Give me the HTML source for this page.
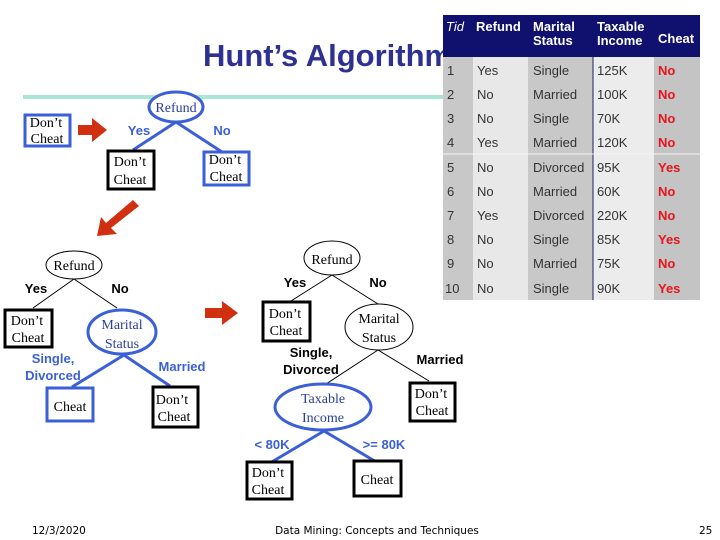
<!DOCTYPE html><html><head><style>body{margin:0;background:#fff}svg{display:block}</style></head><body>
<svg width="720" height="540" xmlns="http://www.w3.org/2000/svg" font-family="Liberation Serif, serif">
<rect width="720" height="540" fill="#fff"/>
<line x1="23" y1="97" x2="445" y2="97" stroke="#a8e6d6" stroke-width="4"/>
<text x="203" y="66" font-family="Liberation Sans, sans-serif" font-weight="bold" font-size="31" fill="#2e3192">Hunt’s Algorithm</text>
<!-- table -->
<g font-family="Liberation Sans, sans-serif" font-size="13">
<rect x="443" y="57" width="30" height="243" fill="#c8c8c8"/>
<rect x="473" y="57" width="55" height="243" fill="#e8e8e8"/>
<rect x="528" y="57" width="65" height="243" fill="#c8c8c8"/>
<rect x="593" y="57" width="61" height="243" fill="#ececec"/>
<rect x="654" y="57" width="46" height="243" fill="#c4c4c4"/>
<line x1="593" y1="57" x2="593" y2="300" stroke="#202060" stroke-width="1"/>
<line x1="443" y1="154" x2="700" y2="154" stroke="#f4f4f4" stroke-width="1"/>
<rect x="443" y="15" width="257" height="42" fill="#10106e"/>
<g fill="#fff" font-weight="bold">
<text x="446" y="31" font-style="italic" font-weight="normal">Tid</text>
<text x="476" y="31">Refund</text>
<text x="533" y="31">Marital</text><text x="533" y="45">Status</text>
<text x="597" y="31">Taxable</text><text x="597" y="45">Income</text>
<text x="658" y="43">Cheat</text>
</g>
<g fill="#333">
<text x="447" y="75">1</text><text x="477" y="75">Yes</text><text x="533" y="75">Single</text><text x="597" y="75">125K</text>
<text x="447" y="99">2</text><text x="477" y="99">No</text><text x="533" y="99">Married</text><text x="597" y="99">100K</text>
<text x="447" y="123">3</text><text x="477" y="123">No</text><text x="533" y="123">Single</text><text x="597" y="123">70K</text>
<text x="447" y="147">4</text><text x="477" y="147">Yes</text><text x="533" y="147">Married</text><text x="597" y="147">120K</text>
<text x="447" y="172">5</text><text x="477" y="172">No</text><text x="533" y="172">Divorced</text><text x="597" y="172">95K</text>
<text x="447" y="196">6</text><text x="477" y="196">No</text><text x="533" y="196">Married</text><text x="597" y="196">60K</text>
<text x="447" y="220">7</text><text x="477" y="220">Yes</text><text x="533" y="220">Divorced</text><text x="597" y="220">220K</text>
<text x="447" y="244">8</text><text x="477" y="244">No</text><text x="533" y="244">Single</text><text x="597" y="244">85K</text>
<text x="447" y="268">9</text><text x="477" y="268">No</text><text x="533" y="268">Married</text><text x="597" y="268">75K</text>
<text x="445" y="293">10</text><text x="477" y="293">No</text><text x="533" y="293">Single</text><text x="597" y="293">90K</text>
</g>
<g fill="#e8141c" font-weight="bold">
<text x="658" y="75">No</text><text x="658" y="99">No</text><text x="658" y="123">No</text><text x="658" y="147">No</text>
<text x="658" y="172">Yes</text><text x="658" y="196">No</text><text x="658" y="220">No</text><text x="658" y="244">Yes</text>
<text x="658" y="268">No</text><text x="658" y="293">Yes</text>
</g>
</g>
<!-- arrows -->
<g fill="#d03010">
<polygon points="78,125 92,125 92,118 107,130 92,142 92,135 78,135"/>
<polygon points="205,308 222,308 222,301 238,313 222,325 222,318 205,318"/>
<polygon points="133,200 139,206 111,228 117,234 97,236 101,217 106,223"/>
</g>
<g font-size="14" text-anchor="middle" fill="#000">
<!-- tree 1 -->
<g stroke="#3b5fd6" stroke-width="3" fill="none">
<line x1="176" y1="122" x2="133" y2="150"/><line x1="176" y1="122" x2="222" y2="152"/>
<ellipse cx="176" cy="107" rx="27" ry="15" fill="#fff"/>
<rect x="25" y="115" width="45" height="31" fill="#fff"/>
<rect x="204" y="152" width="45" height="33" fill="#fff"/>
</g>
<rect x="108" y="151" width="46" height="38" fill="#fff" stroke="#000" stroke-width="3"/>
<text x="176" y="112" fill="#2a3f9a">Refund</text>
<text x="46" y="127">Don’t</text><text x="47" y="143">Cheat</text>
<text x="130" y="166">Don’t</text><text x="130" y="184">Cheat</text>
<text x="225" y="164">Don’t</text><text x="226" y="181">Cheat</text>
<g font-family="Liberation Sans, sans-serif" font-weight="bold" font-size="13" fill="#3b5fd6">
<text x="139" y="135">Yes</text><text x="222" y="135">No</text>
</g>
<!-- tree 2 -->
<g stroke="#000" stroke-width="1" fill="none">
<line x1="74" y1="279" x2="33" y2="308"/><line x1="74" y1="279" x2="117" y2="308"/>
<ellipse cx="74" cy="265" rx="28" ry="14" fill="#fff"/>
</g>
<g stroke="#3b5fd6" stroke-width="3" fill="none">
<line x1="124" y1="355" x2="72" y2="387"/><line x1="124" y1="355" x2="170" y2="386"/>
<ellipse cx="122" cy="332" rx="34" ry="22" fill="#fff"/>
<rect x="47" y="388" width="46" height="33" fill="#fff"/>
</g>
<rect x="5" y="310" width="47" height="37" fill="#fff" stroke="#000" stroke-width="3"/>
<rect x="153" y="387" width="45" height="40" fill="#fff" stroke="#000" stroke-width="3"/>
<text x="74" y="270">Refund</text>
<text x="27" y="325">Don’t</text><text x="28" y="342">Cheat</text>
<text x="122" y="329" fill="#2a3f9a">Marital</text><text x="122" y="348" fill="#2a3f9a">Status</text>
<text x="70" y="411">Cheat</text>
<text x="172" y="404">Don’t</text><text x="174" y="421">Cheat</text>
<g font-family="Liberation Sans, sans-serif" font-weight="bold" font-size="13">
<text x="36" y="293">Yes</text><text x="120" y="293">No</text>
<g fill="#3b5fd6"><text x="53" y="363">Single,</text><text x="53" y="380">Divorced</text><text x="182" y="371">Married</text></g>
</g>
<!-- tree 3 -->
<g stroke="#000" stroke-width="1" fill="none">
<line x1="332" y1="275" x2="291" y2="301"/><line x1="332" y1="275" x2="378" y2="304"/>
<line x1="378" y1="350" x2="326" y2="384"/><line x1="378" y1="350" x2="429" y2="381"/>
<ellipse cx="332" cy="258" rx="28" ry="17" fill="#fff"/>
<ellipse cx="379" cy="327" rx="34" ry="23" fill="#fff"/>
</g>
<g stroke="#3b5fd6" stroke-width="3" fill="none">
<line x1="324" y1="431" x2="270" y2="463"/><line x1="324" y1="431" x2="378" y2="463"/>
<ellipse cx="323" cy="407" rx="48" ry="23" fill="#fff"/>
</g>
<g fill="#fff" stroke="#000" stroke-width="3">
<rect x="263" y="302" width="47" height="39"/>
<rect x="410" y="383" width="45" height="38"/>
<rect x="247" y="462" width="45" height="37"/>
<rect x="354" y="461" width="47" height="35"/>
</g>
<text x="332" y="264">Refund</text>
<text x="285" y="318">Don’t</text><text x="286" y="335">Cheat</text>
<text x="379" y="323">Marital</text><text x="379" y="342">Status</text>
<text x="323" y="403" fill="#2a3f9a">Taxable</text><text x="323" y="422" fill="#2a3f9a">Income</text>
<text x="431" y="398">Don’t</text><text x="432" y="415">Cheat</text>
<text x="268" y="477">Don’t</text><text x="268" y="494">Cheat</text>
<text x="377" y="484">Cheat</text>
<g font-family="Liberation Sans, sans-serif" font-weight="bold" font-size="13">
<text x="295" y="287">Yes</text><text x="378" y="287">No</text>
<text x="311" y="357">Single,</text><text x="311" y="374">Divorced</text><text x="440" y="364">Married</text>
<g fill="#3b5fd6"><text x="272" y="449">&lt; 80K</text><text x="384" y="449">&gt;= 80K</text></g>
</g>
</g>
<g font-family="DejaVu Sans, sans-serif" font-size="10.5" fill="#000">
<text x="32" y="534">12/3/2020</text>
<text x="377" y="534" text-anchor="middle">Data Mining: Concepts and Techniques</text>
<text x="699" y="534">25</text>
</g>
</svg>
</body></html>
